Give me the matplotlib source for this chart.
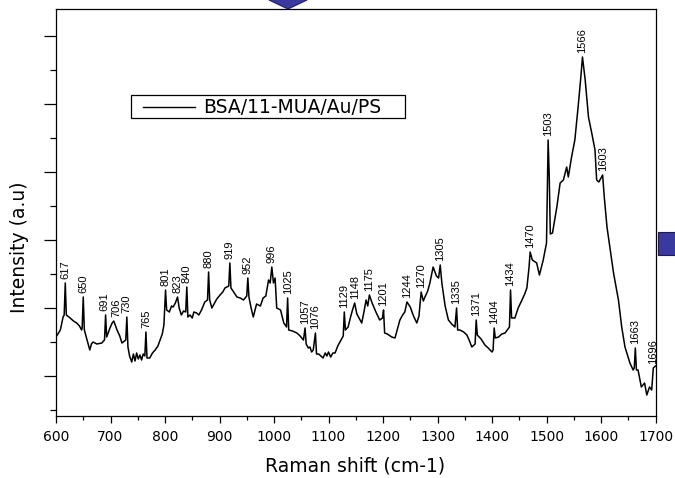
import matplotlib
matplotlib.use('Agg')
import matplotlib.pyplot as plt
import numpy as np
from matplotlib.patches import Rectangle, Polygon
from matplotlib.lines import Line2D

# Espectro Raman (cm-1, intensidade em unidades arbitrárias)
shift = [600, 608, 613, 615, 617, 619, 626, 632, 638, 643, 647, 648, 650, 652,
         656, 662, 665, 668, 675, 684, 689, 691, 693, 699, 703, 706, 712, 717,
         721, 728, 730, 732, 735, 739, 742, 745, 748, 751, 754, 757, 760, 763,
         765, 767, 772, 777, 782, 787, 791, 795, 798, 801, 803, 808, 812, 815,
         819, 823, 826, 830, 834, 838, 840, 842, 846, 850, 853, 858, 862, 867,
         873, 878, 880, 882, 886, 889, 895, 901, 906, 910, 917, 919, 921, 926,
         932, 938, 944, 950, 952, 954, 958, 962, 968, 975, 980, 985, 990, 993,
         996, 999, 1002, 1005, 1012, 1018, 1023, 1025, 1027, 1034, 1042, 1048,
         1054, 1057, 1059, 1063, 1066, 1069, 1072, 1076, 1078, 1082, 1086, 1090,
         1094, 1097, 1100, 1104, 1108, 1112, 1117, 1121, 1127, 1129, 1131, 1136,
         1140, 1144, 1148, 1152, 1156, 1161, 1165, 1169, 1172, 1175, 1180, 1187,
         1194, 1199, 1201, 1203, 1208, 1216, 1222, 1226, 1231, 1236, 1240, 1244,
         1250, 1256, 1262, 1266, 1270, 1274, 1277, 1282, 1286, 1292, 1298, 1302,
         1305, 1308, 1314, 1320, 1326, 1332, 1335, 1337, 1341, 1348, 1354, 1358,
         1363, 1369, 1371, 1373, 1380, 1387, 1393, 1400, 1402, 1404, 1406, 1412,
         1418, 1424, 1432, 1434, 1436, 1442, 1448, 1455, 1460, 1464, 1468, 1470,
         1474, 1482, 1487, 1494, 1500, 1503, 1505, 1507, 1511, 1519, 1525, 1531,
         1537, 1540, 1546, 1552, 1558, 1563, 1566, 1571, 1577, 1583, 1589, 1592,
         1596, 1603, 1606, 1611, 1617, 1623, 1632, 1638, 1644, 1653, 1659, 1661,
         1663, 1665, 1668, 1674, 1680, 1684, 1689, 1693, 1696, 1700]
intensity = [79, 86, 99, 101, 133, 101, 98, 95, 93, 90, 86, 88, 119, 86,
             78, 66, 72, 74, 72, 73, 76, 101, 79, 88, 93, 95, 86, 80,
             73, 76, 99, 69, 60, 54, 62, 55, 63, 57, 61, 56, 62, 60,
             84, 58, 58, 63, 66, 70, 76, 82, 91, 126, 106, 104, 110, 109,
             113, 119, 108, 101, 105, 104, 129, 99, 101, 98, 104, 103, 101, 106,
             114, 116, 144, 116, 108, 111, 117, 121, 124, 128, 130, 153, 128, 124,
             119, 118, 116, 120, 138, 119, 108, 99, 112, 110, 118, 120, 136, 133,
             149, 133, 138, 108, 106, 93, 89, 118, 86, 85, 83, 80,
             76, 88, 72, 68, 69, 64, 66, 83, 62, 62, 60, 58,
             63, 60, 64, 59, 63, 63, 70, 74, 80, 104, 86, 89,
             98, 106, 113, 102, 98, 93, 104, 116, 110, 121, 113, 104,
             96, 98, 106, 83, 82, 79, 78, 86, 96, 101, 104, 114,
             109, 100, 93, 100, 124, 115, 119, 125, 133, 149, 140, 138,
             151, 133, 110, 96, 92, 89, 108, 86, 86, 84, 81, 76,
             69, 72, 96, 81, 77, 71, 68, 64, 66, 88, 78, 79,
             82, 83, 89, 126, 98, 98, 108, 116, 122, 128, 149, 164,
             156, 153, 141, 156, 173, 276, 240, 182, 183, 209, 233, 236,
             249, 239, 259, 276, 309, 339, 359, 336, 299, 283, 266, 236,
             234, 241, 219, 189, 166, 143, 116, 89, 69, 53, 46, 48,
             68, 46, 46, 29, 33, 21, 29, 26, 48, 50]

# Picos marcados
peaks = [617, 650, 691, 706, 730, 765, 801, 823, 840, 880, 919, 952, 996,
         1025, 1057, 1076, 1129, 1148, 1175, 1201, 1244, 1270, 1305, 1335,
         1371, 1404, 1434, 1470, 1503, 1566, 1603, 1663, 1696]

W, H = 675, 478


def fig_xy(x, y):
    # pixel -> fração da figura
    return x / W, 1 - y / H


fig = plt.figure(figsize=(W / 100, H / 100), dpi=100)
fig.patch.set_facecolor('#ffffff')
ax = fig.add_axes([56 / W, (H - 416) / H, 599.5 / W, 407 / H])

ax.plot(shift, intensity, color='k', linewidth=1.1, label='BSA/11-MUA/Au/PS')

# rótulos muito próximos: pequeno deslocamento lateral (pt)
nudge = {691: -1.0, 706: 2.0}
for p in peaks:
    top = np.interp(p, shift, intensity)
    ax.annotate(str(p), xy=(p, top), xytext=(nudge.get(p, 0), 3),
                textcoords='offset points', rotation=90, ha='center',
                va='bottom', fontsize=8, family='Liberation Sans', color='k')

ax.set_xlim(600, 1700)
ax.set_ylim(0, 407)
ax.set_xticks(np.arange(600, 1701, 100))
ax.set_xticks(np.arange(650, 1700, 100), minor=True)
ax.set_yticks(np.arange(40, 407, 68))
ax.set_yticks(np.arange(6, 407, 68), minor=True)
ax.set_yticklabels([])
ax.tick_params(axis='x', which='major', direction='out', length=5, width=0.9,
               labelsize=10, pad=5)
ax.tick_params(axis='x', which='minor', direction='out', length=3, width=0.9)
ax.tick_params(axis='y', which='major', direction='out', length=8.4, width=0.9)
ax.tick_params(axis='y', which='minor', direction='out', length=4.1, width=0.9)
for s in ax.spines.values():
    s.set_linewidth(0.9)

fig.text(*fig_xy(355.5, 466), 'Raman shift (cm-1)', ha='center', va='center',
         fontsize=13.5)
fig.text(*fig_xy(20, 247), 'Intensity (a.u)', ha='center', va='center',
         rotation=90, fontsize=13.5)

# Legenda
x0, y0 = fig_xy(131, 118)
x1, y1 = fig_xy(405, 95)
fig.add_artist(Rectangle((x0, y0), x1 - x0, y1 - y0, transform=fig.transFigure,
                         facecolor='white', edgecolor='k', linewidth=0.9))
lx0, ly = fig_xy(143, 107)
lx1, _ = fig_xy(195, 107)
fig.add_artist(Line2D([lx0, lx1], [ly, ly], transform=fig.transFigure,
                      color='k', linewidth=1.0))
fig.text(*fig_xy(203, 107.5), 'BSA/11-MUA/Au/PS', ha='left', va='center',
         fontsize=13.5)

# Marcadores azuis da moldura
diamond = [fig_xy(288, -8), fig_xy(307, 0), fig_xy(288, 9), fig_xy(269, 0)]
fig.add_artist(Polygon(diamond, closed=True, transform=fig.transFigure,
                       facecolor='#3a3a9e', edgecolor='#1c1c5c', linewidth=0.8,
                       clip_on=False))
sx0, sy0 = fig_xy(658, 255)
sx1, sy1 = fig_xy(676, 232)
fig.add_artist(Rectangle((sx0, sy0), sx1 - sx0, sy1 - sy0,
                         transform=fig.transFigure, facecolor='#3a3a9e',
                         edgecolor='#1c1c5c', linewidth=0.8))

fig.savefig('out.png', dpi=100)
